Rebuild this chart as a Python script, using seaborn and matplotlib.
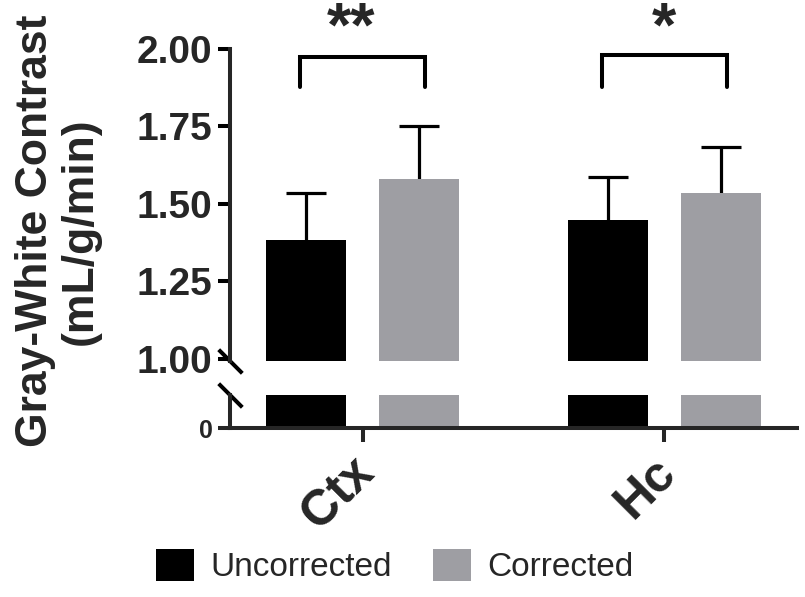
import numpy as np
import pandas as pd
import matplotlib
matplotlib.use("Agg")
import matplotlib.pyplot as plt
import matplotlib.transforms as mtransforms
import seaborn as sns

regions = ["Ctx", "Hc"]
conditions = ["Uncorrected", "Corrected"]
means_uncorrected = [1.384, 1.448]
means_corrected = [1.580, 1.535]
err_uncorrected = [0.151, 0.139]
err_corrected = [0.172, 0.149]
significance = ["**", "*"]
bracket_y = [1.975, 1.98]
bracket_leg = [1.878, 1.877]
star_y = [2.01, 2.01]
ytick_values = [1.00, 1.25, 1.50, 1.75, 2.00]
ytick_labels = ["1.00", "1.25", "1.50", "1.75", "2.00"]

colors = {"Uncorrected": "#000000", "Corrected": "#9e9ea3"}

df = pd.DataFrame({
    "region": regions * 2,
    "condition": ["Uncorrected"] * 2 + ["Corrected"] * 2,
    "value": means_uncorrected + means_corrected,
    "err": err_uncorrected + err_corrected,
})

sns.set_theme(style="ticks")
plt.rcParams["font.family"] = ["Liberation Sans", "DejaVu Sans"]

W, H = 805, 597
fig = plt.figure(figsize=(W / 100, H / 100), dpi=100)

def fx(px):
    return px / W

def fy(py):
    return 1 - py / H

left, right = 230, 797
ax_top = fig.add_axes([fx(left), fy(361), fx(right - left), fy(49) - fy(361)])
ax_bot = fig.add_axes([fx(left), fy(428), fx(right - left), fy(395) - fy(428)])

for ax in (ax_top, ax_bot):
    sns.barplot(data=df, x="region", y="value", hue="condition",
                order=regions, hue_order=conditions, palette=colors,
                width=0.748, gap=0.29, errorbar=None, saturation=1,
                edgecolor="none", linewidth=0, ax=ax, legend=(ax is ax_top))
    ax.set_xlim(-0.44, 1.44)
    ax.set_xlabel("")
    ax.set_ylabel("")

# upper-only error bars at bar centres (patches are hue-major)
xs, vals, errs, halfcap = [], [], [], []
k = 0
for cond in conditions:
    for reg in regions:
        p = ax_top.patches[k]
        row = df[(df.region == reg) & (df.condition == cond)].iloc[0]
        xc = p.get_x() + p.get_width() / 2
        xs.append(xc)
        vals.append(row.value)
        errs.append(row.err)
        halfcap.append(p.get_width() / 4)
        k += 1
xs = np.array(xs); vals = np.array(vals); errs = np.array(errs); halfcap = np.array(halfcap)
ax_top.vlines(xs, vals, vals + errs, color="black", lw=2.3, zorder=0.5)
ax_top.hlines(vals + errs, xs - halfcap, xs + halfcap, color="black", lw=2.3, zorder=0.5)

# top axis styling
ax_top.set_ylim(0.993, 2.0)
ax_top.set_yticks(ytick_values)
ax_top.set_yticklabels(ytick_labels, fontsize=28, fontweight="bold")
ax_top.set_xticks([])
for s in ("top", "right", "bottom"):
    ax_top.spines[s].set_visible(False)
ax_top.spines["left"].set_linewidth(2.9)
ax_top.tick_params(axis="y", width=2.9, length=8.5, pad=4, color="black")

# bottom axis styling
ax_bot.set_ylim(0, 0.1)
ax_bot.set_yticks([0])
ax_bot.set_yticklabels(["0"], fontsize=18, fontweight="bold")
for s in ("top", "right"):
    ax_bot.spines[s].set_visible(False)
ax_bot.spines["left"].set_linewidth(2.9)
ax_bot.spines["bottom"].set_linewidth(2.9)
ax_bot.tick_params(axis="y", width=2.9, length=8.5, pad=4)
ax_bot.tick_params(axis="x", width=2.9, length=10, pad=6)
ax_bot.set_xticks(range(len(regions)))
ax_bot.set_xticklabels(regions, fontsize=36, fontweight="bold",
                       rotation=45, ha="right", va="center",
                       rotation_mode="anchor")
offset = mtransforms.ScaledTranslation(4 / 100, -15 / 100, fig.dpi_scale_trans)
for lab in ax_bot.get_xticklabels():
    lab.set_transform(lab.get_transform() + offset)

# broken-axis marks
mk = [(-1, 1), (1, -1)]
ax_top.plot([0], [0], transform=ax_top.transAxes, marker=mk, markersize=17,
            mew=2.9, color="black", linestyle="none", clip_on=False)
ax_bot.plot([0], [1], transform=ax_bot.transAxes, marker=mk, markersize=17,
            mew=2.9, color="black", linestyle="none", clip_on=False)

# significance brackets
for j, reg in enumerate(regions):
    x0 = xs[j] - 0.02
    x1 = xs[2 + j] + 0.02
    ax_top.plot([x0, x0, x1, x1], [bracket_leg[j], bracket_y[j], bracket_y[j], bracket_leg[j]],
                color="black", lw=2.9, solid_capstyle="round", solid_joinstyle="miter",
                clip_on=False)
    xc = (x0 + x1) / 2 - (0.04 if len(significance[j]) > 1 else 0)
    ax_top.text(xc, star_y[j], significance[j], ha="center", va="baseline",
                fontsize=45, fontweight="bold", clip_on=False)

# y label
fig.text(fx(58), fy(231), "Gray-White Contrast\n(mL/g/min)", rotation=90,
         ha="center", va="center", multialignment="center",
         fontsize=32, fontweight="bold", linespacing=1.1)

# legend
handles, labels = ax_top.get_legend_handles_labels()
ax_top.get_legend().remove()
leg = fig.legend(handles, labels, loc="center", bbox_to_anchor=(fx(395), fy(566)),
                 ncol=2, frameon=False, handlelength=1.12, handleheight=1.12,
                 handletextpad=0.5, columnspacing=1.25,
                 prop={"size": 24})

fig.savefig("out.png", dpi=100)
